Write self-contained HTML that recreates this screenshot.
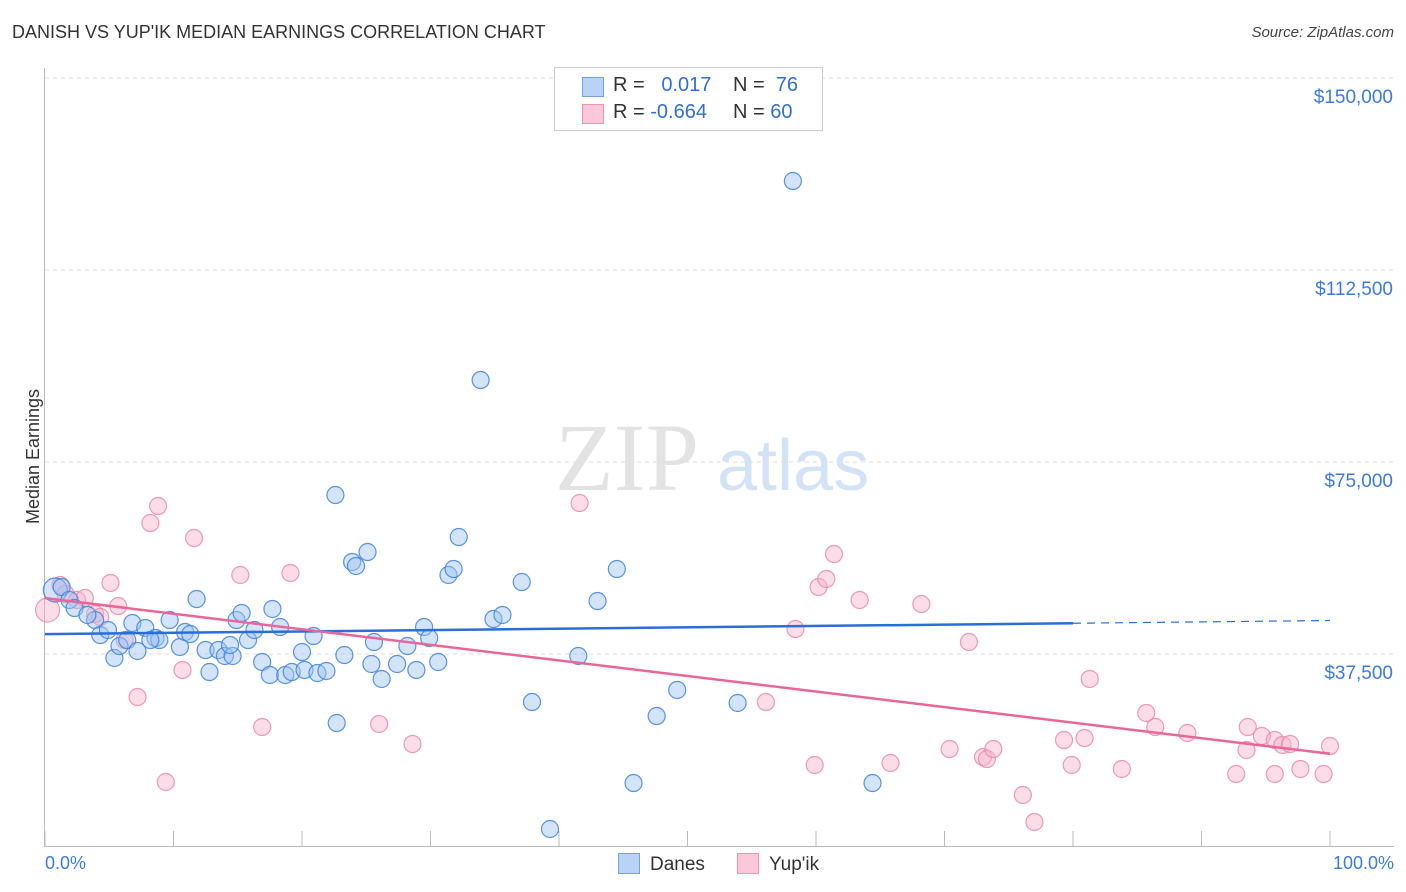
<!DOCTYPE html>
<html><head><meta charset="utf-8"><style>
body{margin:0;background:#fff;font-family:"Liberation Sans",sans-serif;}
#wrap{position:relative;width:1406px;height:892px;overflow:hidden;}
.t{position:absolute;white-space:nowrap;}
</style></head><body>
<div id="wrap">
<div class="t" style="left:12px;top:22px;font-size:18px;color:#333;">DANISH VS YUP'IK MEDIAN EARNINGS CORRELATION CHART</div>
<div class="t" style="right:12px;top:24px;font-size:15px;color:#444;font-style:italic;">Source: ZipAtlas.com</div>
<svg id="svg" width="1406" height="892" style="position:absolute;left:0;top:0"></svg>
<div class="t" style="left:554px;top:67px;width:267px;height:62px;border:1px solid #ccc;background:#fff;font-size:20px;">
 <div style="position:absolute;left:27px;top:9px;width:20px;height:18px;background:#b8d3f5;border:1px solid #6ea3e6"></div>
 <div style="position:absolute;left:27px;top:36px;width:20px;height:18px;background:#fac8d8;border:1px solid #ee93b1"></div>
 <div class="t" style="left:58px;top:6px;color:#333">R = &nbsp; <span style="color:#2f6fd6">0.017</span></div>
 <div class="t" style="left:178px;top:6px;color:#333">N = &nbsp;<span style="color:#2f6fd6">76</span></div>
 <div class="t" style="left:58px;top:33px;color:#333">R = <span style="color:#2f6fd6">-0.664</span></div>
 <div class="t" style="left:178px;top:33px;color:#333">N = <span style="color:#2f6fd6">60</span></div>
</div>
<div class="t" style="left:-34px;top:446px;font-size:18px;color:#333;transform:rotate(-90deg);">Median Earnings</div>
<div class="t" style="left:45px;top:853px;font-size:18px;color:#3b7be0;">0.0%</div>
<div class="t" style="right:12px;top:853px;font-size:18px;color:#3b7be0;">100.0%</div>
<div class="t" style="left:618px;top:853px;font-size:19px;color:#333;"><span style="display:inline-block;width:20px;height:19px;background:#b8d3f5;border:1px solid #6ea3e6;vertical-align:-4px;margin-right:10px"></span>Danes</div>
<div class="t" style="left:737px;top:853px;font-size:19px;color:#333;"><span style="display:inline-block;width:20px;height:19px;background:#fac8d8;border:1px solid #ee93b1;vertical-align:-4px;margin-right:10px"></span>Yup'ik</div>
</div>
<script>
const yTicks=[37500,75000,112500,150000];
const yTickLabels=["$37,500","$75,000","$112,500","$150,000"];
const danesX=[0.8,1.3,1.9,2.3,3.9,4.3,4.9,5.4,5.8,6.4,6.8,7.2,7.8,8.6,8.9,9.7,10.5,10.9,11.3,11.8,12.5,12.8,13.5,14.0,14.6,14.9,15.3,15.8,16.3,16.9,17.5,17.7,18.3,18.7,19.2,20.0,20.2,20.9,21.2,21.9,22.6,22.7,23.9,24.2,25.1,25.4,25.6,26.2,27.4,28.2,28.9,29.5,29.9,30.6,31.4,31.8,32.2,33.9,34.9,35.6,37.1,37.9,39.3,41.5,43.0,44.5,45.8,47.6,49.2,53.9,58.2,64.4,3.3,8.2,14.4,23.3];
const danesY=[50000,50580,48050,46480,44140,41210,42190,36720,39060,40230,43550,38090,42580,40620,40230,44140,38870,41800,41400,48240,38280,33980,38280,37110,37110,44140,45510,40230,42190,35940,33400,46290,42770,33400,33980,37890,34380,41010,33790,34180,68550,24020,55470,54690,57420,35550,39840,32620,35550,39060,34380,42770,40620,35940,52930,54100,60350,91010,44330,45120,51560,28120,3320,37110,47850,54100,12300,25390,30470,27930,129880,12300,45120,40230,39260,37300];
const yupikX=[0.2,1.2,1.6,2.5,3.1,3.9,4.3,5.1,5.7,6.2,7.2,8.2,8.8,9.4,10.7,11.6,15.2,16.9,19.1,26.0,28.6,41.6,56.1,58.4,59.9,60.2,60.8,61.4,63.4,65.8,68.2,70.4,71.9,73.0,73.3,73.8,76.1,77.0,79.3,79.9,80.9,81.3,83.8,85.7,86.4,88.9,92.7,93.6,93.5,94.7,95.7,95.7,96.3,96.9,97.7,99.5,100];
const yupikY=[46090,50970,49220,48050,48440,45310,44730,51370,46870,40230,29100,63080,66400,12500,34380,60150,52930,23240,53320,23830,19920,66990,28120,42380,15820,50580,52150,57030,48050,16210,47260,18940,39840,17380,16990,18940,9960,4690,20700,15820,21090,32620,15040,25980,23240,22070,14060,23240,18750,21480,14060,20700,19730,19920,15040,14060,19530];
const NS="http://www.w3.org/2000/svg";
const svg=document.getElementById('svg');
const X0=45,X1=1330,Ybase=846,PX_PER=192/37500;
const sx=v=>X0+(X1-X0)*v/100;
const sy=v=>Ybase-v*PX_PER;
function mk(tag,attrs){const e=document.createElementNS(NS,tag);for(const k in attrs)e.setAttribute(k,attrs[k]);svg.appendChild(e);return e;}
// gridlines
yTicks.forEach((t,i)=>{
 const g=mk('line',{x1:45,x2:1394,y1:sy(t),y2:sy(t),stroke:'#ddd','stroke-dasharray':'4,4'});
 
 
 const tx=mk('text',{x:1393,y:sy(t)+25,'text-anchor':'end','font-size':19,fill:'#3b7be0','font-family':'Liberation Sans, sans-serif'});
 tx.textContent=yTickLabels[i];
 
 
});
const ax=mk('line',{x1:44.5,x2:44.5,y1:68,y2:846,stroke:'#bbb'});


const bx=mk('line',{x1:44,x2:1394,y1:846.5,y2:846.5,stroke:'#bbb'});


for(let i=0;i<=10;i++){const t=mk('line',{x1:sx(i*10),x2:sx(i*10),y1:831,y2:846,stroke:'#bbb'});
 
 }
// watermark
const wm=mk('text',{x:555,y:490,'font-size':96,fill:'#e3e3e3','font-family':'Liberation Serif, serif'});wm.textContent='ZIP';


const wm2=mk('text',{x:717,y:490,'font-size':72,fill:'#d3e3f7','font-family':'Liberation Sans, sans-serif'});wm2.textContent='atlas';


function dots(xs,ys,fill,stroke,name){xs.forEach((x,i)=>{const c=mk('circle',{cx:sx(x),cy:sy(ys[i]),r:i===0?12:8.5,fill:fill,stroke:stroke,'stroke-width':1.2});
 
 });}
dots(yupikX,yupikY,'rgba(248,180,202,0.45)','rgba(232,130,165,0.8)','yupik-point');
dots(danesX,danesY,'rgba(160,196,240,0.45)','rgba(60,130,220,0.85)','danes-point');
function fit(xs,ys){const n=xs.length;let mx=0,my=0;for(let i=0;i<n;i++){mx+=xs[i];my+=ys[i];}mx/=n;my/=n;let sxy=0,sxx=0;for(let i=0;i<n;i++){sxy+=(xs[i]-mx)*(ys[i]-my);sxx+=(xs[i]-mx)**2;}const b=sxy/sxx;return x=>my+b*(x-mx);}
const fb=fit(danesX,danesY),fp=fit(yupikX,yupikY);
const l1=mk('line',{x1:sx(0),y1:sy(fb(0)),x2:sx(80),y2:sy(fb(80)),stroke:'#2a6fd6','stroke-width':2.5});


const l2=mk('line',{x1:sx(80),y1:sy(fb(80)),x2:sx(100),y2:sy(fb(100)),stroke:'#2a6fd6','stroke-width':1.2,'stroke-dasharray':'8,6'});


const l3=mk('line',{x1:sx(0),y1:sy(fp(0)),x2:sx(100),y2:sy(fp(100)),stroke:'#e8669a','stroke-width':2.5});


</script>
</body></html>
